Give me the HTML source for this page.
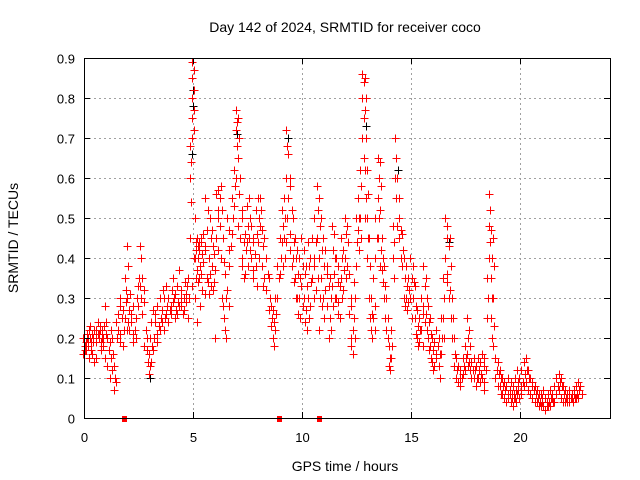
<!DOCTYPE html>
<html><head><meta charset="utf-8"><style>
body{margin:0;background:#fff;}
svg{display:block;font-family:"Liberation Sans",sans-serif;}
</style></head><body>
<svg id="chart" width="640" height="480" xmlns="http://www.w3.org/2000/svg">
<rect width="640" height="480" fill="#fff"/>
<text x="345" y="32" font-size="14" text-anchor="middle">Day 142 of 2024, SRMTID for receiver coco</text>
<text x="345" y="471" font-size="14" text-anchor="middle">GPS time / hours</text>
<text x="18" y="238" font-size="14" text-anchor="middle" transform="rotate(-90 18 238)">SRMTID / TECUs</text>
<g id="grid" shape-rendering="crispEdges"></g>
<g id="marks" shape-rendering="crispEdges"></g>
<rect x="84.5" y="58.5" width="526" height="360" fill="none" stroke="#000" stroke-width="1" shape-rendering="crispEdges"/>
<g id="axes"></g>
</svg>
<script>
const xTicks=[0,5,10,15,20];
const yTicks=[0,0.1,0.2,0.3,0.4,0.5,0.6,0.7,0.8,0.9];
const yTickLabels=["0","0.1","0.2","0.3","0.4","0.5","0.6","0.7","0.8","0.9"];
const times=[0.0,0.1,0.2,0.3,0.4,0.5,0.6,0.7,0.8,0.9,1.0,1.1,1.2,1.3,1.4,1.5,1.6,1.7,1.8,1.9,2.0,2.1,2.2,2.3,2.4,2.5,2.6,2.7,2.8,2.9,3.0,3.1,3.2,3.3,3.4,3.5,3.6,3.7,3.8,3.9,4.0,4.1,4.2,4.3,4.4,4.5,4.6,4.7,4.8,4.9,5.0,5.1,5.2,5.3,5.4,5.5,5.6,5.7,5.8,5.9,6.0,6.1,6.2,6.3,6.4,6.5,6.6,6.7,6.8,6.9,7.0,7.1,7.2,7.3,7.4,7.5,7.6,7.7,7.8,7.9,8.0,8.1,8.2,8.3,8.4,8.5,8.6,8.7,8.8,8.9,9.0,9.1,9.2,9.3,9.4,9.5,9.6,9.7,9.8,9.9,10.0,10.1,10.2,10.3,10.4,10.5,10.6,10.7,10.8,10.9,11.0,11.1,11.2,11.3,11.4,11.5,11.6,11.7,11.8,11.9,12.0,12.1,12.2,12.3,12.4,12.5,12.6,12.7,12.8,12.9,13.0,13.1,13.2,13.3,13.4,13.5,13.6,13.7,13.8,13.9,14.0,14.1,14.2,14.3,14.4,14.5,14.6,14.7,14.8,14.9,15.0,15.1,15.2,15.3,15.4,15.5,15.6,15.7,15.8,15.9,16.0,16.1,16.2,16.3,16.4,16.5,16.6,16.7,16.8,16.9,17.0,17.1,17.2,17.3,17.4,17.5,17.6,17.7,17.8,17.9,18.0,18.1,18.2,18.3,18.4,18.5,18.6,18.7,18.8,18.9,19.0,19.1,19.2,19.3,19.4,19.5,19.6,19.7,19.8,19.9,20.0,20.1,20.2,20.3,20.4,20.5,20.6,20.7,20.8,20.9,21.0,21.1,21.2,21.3,21.4,21.5,21.6,21.7,21.8,21.9,22.0,22.1,22.2,22.3,22.4,22.5,22.6,22.7,22.8];
const srmtid=[
[.16,.18,.2,.17],[.19,.21,.17,.2],[.18,.22,.2,.15],[.2,.17,.23,.19],[.21,.19,.16,.2],[.14,.2,.22,.15],[.22,.24,.19,.21],[.2,.23,.21,.22],[.19,.22,.17,.2],[.2,.23,.18],
[.15,.21,.28,.24],[.13,.17,.2],[.1,.15,.19,.22],[.12,.16,.2],[.07,.1,.13],[.09,.2,.24],[.26,.3,.22,.19],[.28,.25,.21],[.27,.22,.18],[.25,.32,.35,.29],
[.43,.38,.3,.24,.22],[.27,.31,.22],[.24,.21,.26],[.28,.22,.19],[.25,.3,.2],[.33,.35,.28],[.43,.4,.33,.3],[.35,.32,.26],[.29,.22,.18],[.17,.14,.2],
[.11,.13,.16,.2],[.14,.18,.24],[.27,.2,.17],[.24,.21,.26],[.28,.23,.19],[.22,.25,.3],[.27,.32,.24],[.3,.25,.22],[.33,.28,.26],[.3,.27,.24],
[.28,.32,.26],[.35,.3,.29],[.31,.27,.25],[.26,.29,.33],[.37,.3,.28],[.32,.26,.28],[.3,.34,.27],[.29,.33,.31],[.35,.3,.25],[.45,.54,.6,.64,.68],
[.89,.87,.85,.82,.8,.77,.75,.72,.7,.4,.33],[.3,.35,.4,.44,.5,.42],[.45,.4,.37,.34,.24,.43],[.42,.38,.35,.28,.44],[.44,.41,.36,.32,.45],[.46,.42,.39,.31],[.55,.47,.43,.35],[.52,.4,.34,.31],[.5,.45,.36,.33],[.47,.43,.38,.32],
[.41,.37,.34,.2],[.56,.5,.45,.42],[.57,.55,.52,.48],[.58,.52,.4,.3],[.45,.39,.28,.25],[.36,.3,.22,.2],[.5,.42,.32,.28],[.47,.43,.38],[.55,.5,.46],[.62,.58,.53],
[.77,.74,.72,.68,.6],[.75,.7,.65,.56,.48],[.6,.52,.45,.4],[.5,.44,.38,.35],[.46,.42,.36],[.53,.48,.44,.38],[.55,.5,.45,.42],[.48,.44,.4,.35],[.45,.41,.37],[.52,.46,.38,.33],
[.55,.5,.44,.4],[.55,.52,.48],[.47,.43,.38,.33],[.45,.4,.35],[.4,.36,.32],[.35,.3,.27],[.28,.25,.23],[.27,.24,.2,.18],[.3,.26,.22],[.38,.35,.3],
[.45,.4,.36],[.52,.48,.44,.38],[.55,.5,.45,.4],[.72,.68,.6,.5,.44],[.66,.6,.55,.42],[.58,.52,.46,.38],[.5,.44,.4,.34],[.45,.4,.35,.3],[.42,.36,.3,.26],[.4,.35,.3,.25],
[.45,.38,.33,.28],[.42,.36,.3,.24],[.38,.33,.27,.22],[.44,.38,.3,.25],[.4,.34,.28],[.45,.4,.35,.3],[.5,.44,.38,.32],[.58,.52,.45,.35],[.55,.48,.4,.3,.22],[.5,.42,.35,.28],
[.45,.38,.3,.25],[.42,.36,.32,.28],[.38,.33,.28,.2],[.35,.3,.25,.22],[.48,.42,.33,.28],[.46,.4,.36,.3],[.4,.34,.3,.26],[.38,.33,.29,.25],[.45,.4,.35,.3],[.42,.37,.32],
[.5,.46,.4,.35],[.48,.44,.38],[.36,.3,.26,.2],[.28,.22,.18,.16],[.34,.3,.25,.2],[.5,.44,.38],[.55,.5,.47,.42],[.62,.58,.5,.45],[.86,.84,.8,.75,.7,.65],[.85,.8,.77,.7,.62,.55,.5],
[.62,.56,.5,.45,.4],[.45,.38,.3,.25],[.3,.26,.22,.2],[.35,.28,.25,.22],[.5,.45,.4],[.65,.6,.55,.5,.45],[.64,.58,.52,.42,.38],[.45,.4,.37,.34],[.38,.33,.3,.25],[.3,.25,.22,.2],
[.18,.15,.13,.12],[.22,.18,.15],[.48,.44,.4,.35],[.7,.65,.6,.55],[.6,.55,.48,.45],[.5,.47,.45,.4],[.46,.42,.38],[.4,.35,.3,.28],[.38,.33,.3,.27],[.35,.32,.29],
[.4,.35,.3,.25],[.38,.34,.3],[.33,.28,.25,.21],[.27,.23,.2,.18],[.25,.22,.19],[.3,.26,.22,.18],[.38,.33,.28,.24],[.35,.3,.26,.22],[.28,.24,.2,.17],[.25,.21,.18,.15],
[.2,.17,.14,.12],[.19,.16,.13],[.22,.18,.15],[.2,.16,.13,.1],[.25,.2,.16],[.35,.3,.25,.2],[.5,.45,.4,.34],[.48,.43,.36,.3],[.45,.38,.32,.25],[.3,.25,.2],
[.2,.16,.13],[.15,.12,.1],[.13,.1,.09],[.12,.1,.08],[.15,.13,.11],[.18,.15,.12],[.25,.2,.16,.13],[.22,.18,.14,.12],[.14,.12,.1],[.15,.12,.1],
[.13,.1,.08],[.15,.12,.1],[.14,.11,.09],[.16,.13,.1,.07],[.15,.12,.09],[.35,.3,.25],[.56,.52,.48,.44,.4],[.47,.4,.35,.3,.25,.2],[.45,.38,.3,.23,.18],[.15,.12,.1],
[.14,.11,.08],[.12,.1,.08,.06],[.1,.08,.06],[.09,.07,.05],[.08,.06,.04],[.1,.07,.05,.06],[.09,.06,.04,.05],[.08,.05,.03,.06],[.1,.07,.05,.04],[.12,.09,.06,.07],
[.1,.08,.05,.06],[.12,.09,.07],[.14,.11,.08],[.15,.12,.09],[.12,.1,.07],[.1,.08,.06],[.09,.07,.05],[.08,.06,.04],[.07,.05,.04],[.06,.04,.03],
[.06,.04,.03,.05],[.07,.05,.03],[.05,.04,.02,.03],[.06,.04,.03],[.07,.05,.03],[.06,.04,.05],[.08,.06,.04],[.1,.08,.06],[.11,.09,.07],[.1,.08,.05],
[.08,.06,.04],[.07,.05,.04],[.06,.05,.04],[.07,.05,.04],[.06,.04,.05],[.07,.05,.06],[.08,.06,.05],[.09,.07,.05],[.08,.06]];
const blackTimes=[4.95,4.95,4.9,7.0,9.3,12.9,16.7,3.0,14.35];
const blackValues=[.82,.78,.66,.71,.7,.73,.44,.1,.62];
const zeroTimes=[1.83,8.94,10.78];

const X0=84,X1=610,Y0=418,Y1=58,XMAX=24.13,YMAX=0.9;
const xs=t=>X0+t/XMAX*(X1-X0);
const ys=v=>Y0-v/YMAX*(Y0-Y1);
const NS="http://www.w3.org/2000/svg";
function mk(tag,attrs,parent){const e=document.createElementNS(NS,tag);for(const k in attrs)e.setAttribute(k,attrs[k]);parent.appendChild(e);return e;}
const grid=document.getElementById('grid'),axes=document.getElementById('axes'),marks=document.getElementById('marks');
yTicks.forEach((v,i)=>{
  const y=Math.round(ys(v))+0.5;
  if(i>0&&i<yTicks.length-1){const g=mk('line',{x1:X0,x2:X1,y1:y,y2:y,stroke:'#a0a0a0','stroke-dasharray':'2,3'},grid);
    
    }
  const t1=mk('line',{x1:X0,x2:X0+6,y1:y,y2:y,stroke:'#000','shape-rendering':'crispEdges'},axes);
  
  
  mk('line',{x1:X1-6,x2:X1,y1:y,y2:y,stroke:'#000','shape-rendering':'crispEdges'},axes);
  const lb=mk('text',{x:X0-9,y:y+5,'font-size':13,'text-anchor':'end'},axes);lb.textContent=yTickLabels[i];
  
  
});
xTicks.forEach(t=>{
  const x=Math.round(xs(t))+0.5;
  if(t>0){const g=mk('line',{x1:x,x2:x,y1:Y1,y2:Y0,stroke:'#a0a0a0','stroke-dasharray':'2,3'},grid);
    
    }
  const t1=mk('line',{x1:x,x2:x,y1:Y0,y2:Y0-6,stroke:'#000','shape-rendering':'crispEdges'},axes);
  
  
  mk('line',{x1:x,x2:x,y1:Y1,y2:Y1+6,stroke:'#000','shape-rendering':'crispEdges'},axes);
  const lb=mk('text',{x:x,y:Y0+24,'font-size':13,'text-anchor':'middle'},axes);lb.textContent=String(t);
  
  
});
function cross(t,v,color,name){
  const x=Math.round(xs(t))+0.5,y=Math.round(ys(v))+0.5;
  const p=mk('path',{d:`M${x-4},${y}h8M${x},${y-4}v8`,stroke:color,'stroke-width':1,fill:'none'},marks);
  
  
}
blackTimes.forEach((t,i)=>cross(t+0.04,blackValues[i],'#000','black-point'));
times.forEach((t,i)=>srmtid[i].forEach((v,j)=>cross(t+(j%2?0.03:-0.03),v,'#f00','red-point')));
zeroTimes.forEach(t=>{
  const r=mk('rect',{x:Math.round(xs(t))-2,y:Y0-2,width:5,height:6,fill:'#f00'},marks);
  
  
});
</script>
</body></html>
